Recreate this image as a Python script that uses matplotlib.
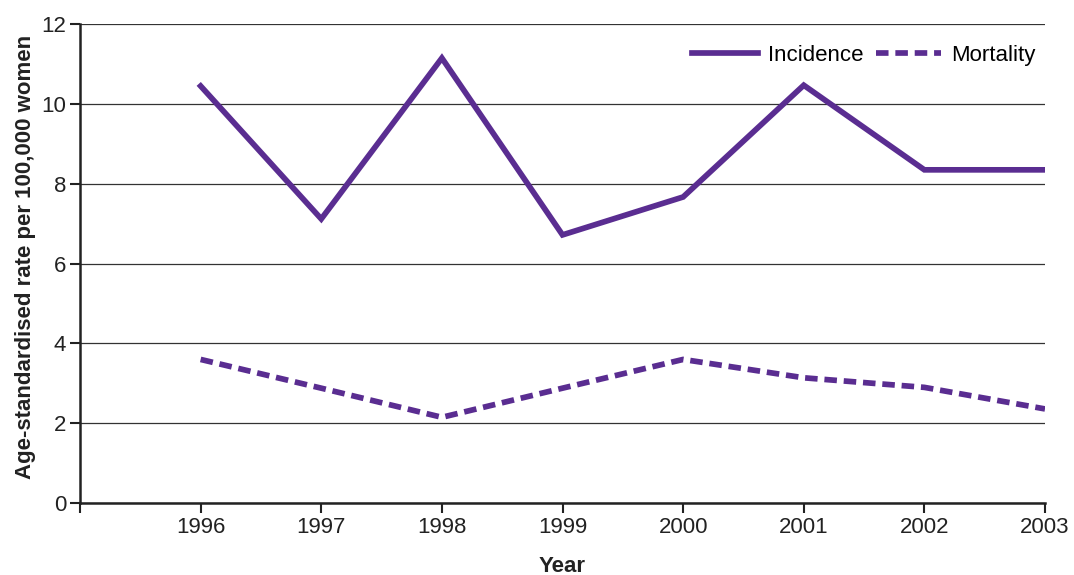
import matplotlib.pyplot as plt

# Data
years = [1996, 1997, 1998, 1999, 2000, 2001, 2002, 2003]
incidence = [10.45, 7.12, 11.15, 6.72, 7.67, 10.47, 8.35, 8.35]
mortality = [3.60, 2.88, 2.15, 2.88, 3.60, 3.14, 2.90, 2.36]
yticks = [0, 2, 4, 6, 8, 10, 12]

purple = '#5a2d91'

plt.rcParams['font.family'] = ['Liberation Sans', 'DejaVu Sans']

fig = plt.figure(figsize=(10.74, 5.75), dpi=100)
ax = fig.add_axes([0.0745, 0.125, 0.8985, 0.833])

ax.plot(years, incidence, color=purple, lw=4.1, label='Incidence',
        solid_joinstyle='miter')
ax.plot(years, mortality, color=purple, lw=4.1, label='Mortality',
        linestyle=(0, (2.2, 1.2)), dash_capstyle='butt')

ax.set_xlim(1995, 2003)
ax.set_ylim(0, 12)
ax.set_xticks(range(1995, 2004))
ax.set_xticklabels([''] + [str(y) for y in years])
ax.set_yticks(yticks)

ax.grid(axis='y', color='#333333', lw=0.9)
ax.set_axisbelow(True)
for s in ['top', 'right']:
    ax.spines[s].set_visible(False)
for s in ['left', 'bottom']:
    ax.spines[s].set_linewidth(1.8)
    ax.spines[s].set_color('#222222')

ax.tick_params(axis='both', labelsize=16, width=1.5, length=7, color='#222222',
               labelcolor='#222222')
ax.tick_params(axis='x', pad=3)
ax.tick_params(axis='y', pad=3)

ax.set_xlabel('Year', fontsize=16, fontweight='bold', labelpad=13, color='#222222')
ax.set_ylabel('Age-standardised rate per 100,000 women', fontsize=16,
              fontweight='bold', labelpad=4, color='#222222')
ax.yaxis.set_label_coords(-0.046, 0.515)

ax.legend(loc='upper right', ncol=2, frameon=False, fontsize=16,
          handlelength=2.95, columnspacing=0.55, handletextpad=0.45,
          borderaxespad=0.2, bbox_to_anchor=(1.004, 0.985))

fig.savefig('out.png', dpi=100)
